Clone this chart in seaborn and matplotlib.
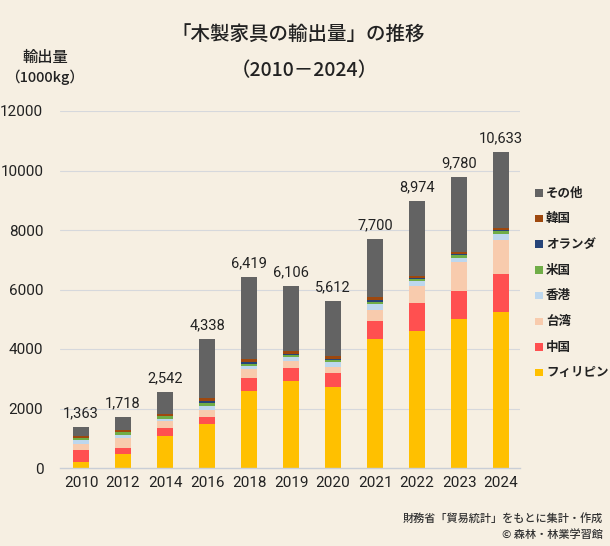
import matplotlib
matplotlib.use("Agg")
import matplotlib.pyplot as plt
from matplotlib import font_manager
from matplotlib.patches import Rectangle
import numpy as np
import pandas as pd
import seaborn as sns

years = ["2010", "2012", "2014", "2016", "2018", "2019", "2020", "2021", "2022", "2023", "2024"]
totals = [1363, 1718, 2542, 4338, 6419, 6106, 5612, 7700, 8974, 9780, 10633]
philippines = [205, 460, 1065, 1479, 2588, 2924, 2723, 4336, 4605, 5008, 5244]
china = [390, 200, 270, 235, 437, 437, 471, 605, 941, 941, 1277]
taiwan = [225, 360, 235, 235, 291, 224, 190, 370, 571, 975, 1143]
hongkong = [110, 80, 80, 134, 112, 134, 179, 202, 157, 134, 202]
usa = [70, 100, 90, 100, 78, 78, 78, 67, 67, 100, 100]
netherlands = [20, 20, 20, 67, 56, 45, 34, 67, 45, 34, 34]
korea = [45, 45, 67, 100, 90, 78, 90, 100, 78, 67, 67]
series_names = ["フィリピン", "中国", "台湾", "香港", "米国", "オランダ", "韓国", "その他"]
colors = ["#FFC000", "#FF5050", "#F8CBAD", "#BDD7EE", "#70AD47", "#264478", "#9E480E", "#636363"]
yticks = [0, 2000, 4000, 6000, 8000, 10000, 12000]

known = [philippines, china, taiwan, hongkong, usa, netherlands, korea]
others = [t - sum(v[i] for v in known) for i, t in enumerate(totals)]
stack = known + [others]

sns.set_theme(style="white")
avail = {f.name for f in font_manager.fontManager.ttflist}
num_font = ["Liberation Sans Narrow"] if "Liberation Sans Narrow" in avail else ["Roboto"]
jp = ["Noto Sans CJK JP", "DejaVu Sans"]
plt.rcParams["font.family"] = jp

bg = "#F6EFE2"
fig = plt.figure(figsize=(6.10, 5.46), dpi=100, facecolor=bg)
ax = fig.add_axes([60 / 610, 78 / 546, 460 / 610, 357 / 546])
ax.set_facecolor(bg)

df = pd.DataFrame({"year": years})
cum = np.cumsum(np.array(stack), axis=0)
for k in range(len(stack) - 1, -1, -1):
    df["v"] = cum[k]
    sns.barplot(data=df, x="year", y="v", color=colors[k], saturation=1,
                width=0.38, order=years, ax=ax, zorder=3, linewidth=0)

for i, t in enumerate(totals):
    ax.text(i, t + 230, f"{t:,}", ha="center", va="bottom", fontsize=10.5,
            family=num_font + jp, color="#222222", zorder=4)

ax.set_xlim(-0.5, 10.45)
ax.set_ylim(0, 12000)
ax.set_yticks(yticks)
ax.set_yticklabels([str(v) for v in yticks], family=num_font + jp, fontsize=11, color="#222222")
ax.set_xticks(range(len(years)))
ax.set_xticklabels(years, family=num_font + jp, fontsize=11, color="#222222")
ax.tick_params(axis="both", length=0, pad=6)
ax.tick_params(axis="y", pad=12)
ax.set_xlabel("")
ax.set_ylabel("")
for y in yticks[1:]:
    ax.axhline(y, color="#D6D8DC", lw=0.8, zorder=1)
for s in ["top", "right", "left"]:
    ax.spines[s].set_visible(False)
ax.spines["bottom"].set_color("#C9CED6")
ax.spines["bottom"].set_linewidth(1.0)
ax.spines["bottom"].set_zorder(5)

fig.text(298 / 610, 1 - 34 / 546, "「木製家具の輸出量」の推移", ha="center", va="center",
         fontsize=14, fontweight="medium", color="#222222", family=jp)
fig.text(304 / 610, 1 - 71 / 546, "（2010－2024）", ha="center", va="center",
         fontsize=14, fontweight="medium", color="#222222", family=jp)
fig.text(45 / 610, 1 - 57 / 546, "輸出量", ha="center", va="center",
         fontsize=11, fontweight="medium", color="#222222", family=jp)
fig.text(45 / 610, 1 - 77 / 546, "（1000kg）", ha="center", va="center",
         fontsize=10.5, fontweight="medium", color="#222222", family=jp)

# legend (top: その他 ... bottom: フィリピン)
leg_y0 = 193
step = 25.7
for j, k in enumerate(range(len(series_names) - 1, -1, -1)):
    yy = 1 - (leg_y0 + j * step) / 546
    fig.patches.append(Rectangle((535 / 610, yy - 3.5 / 546), 7.5 / 610, 7.5 / 546,
                                 transform=fig.transFigure, facecolor=colors[k],
                                 edgecolor="none"))
    fig.text(546 / 610, yy, series_names[k], ha="left", va="center", fontsize=9,
             fontweight="bold", color="#222222", family=jp)

fig.text(603 / 610, 1 - 518 / 546, "財務省「貿易統計」をもとに集計・作成", ha="right",
         va="center", fontsize=8, fontweight="medium", color="#333333", family=jp)
fig.text(603 / 610, 1 - 535 / 546, "© 森林・林業学習館", ha="right", va="center",
         fontsize=8, fontweight="medium", color="#333333", family=jp)

fig.savefig("out.png", dpi=100, facecolor=bg)
